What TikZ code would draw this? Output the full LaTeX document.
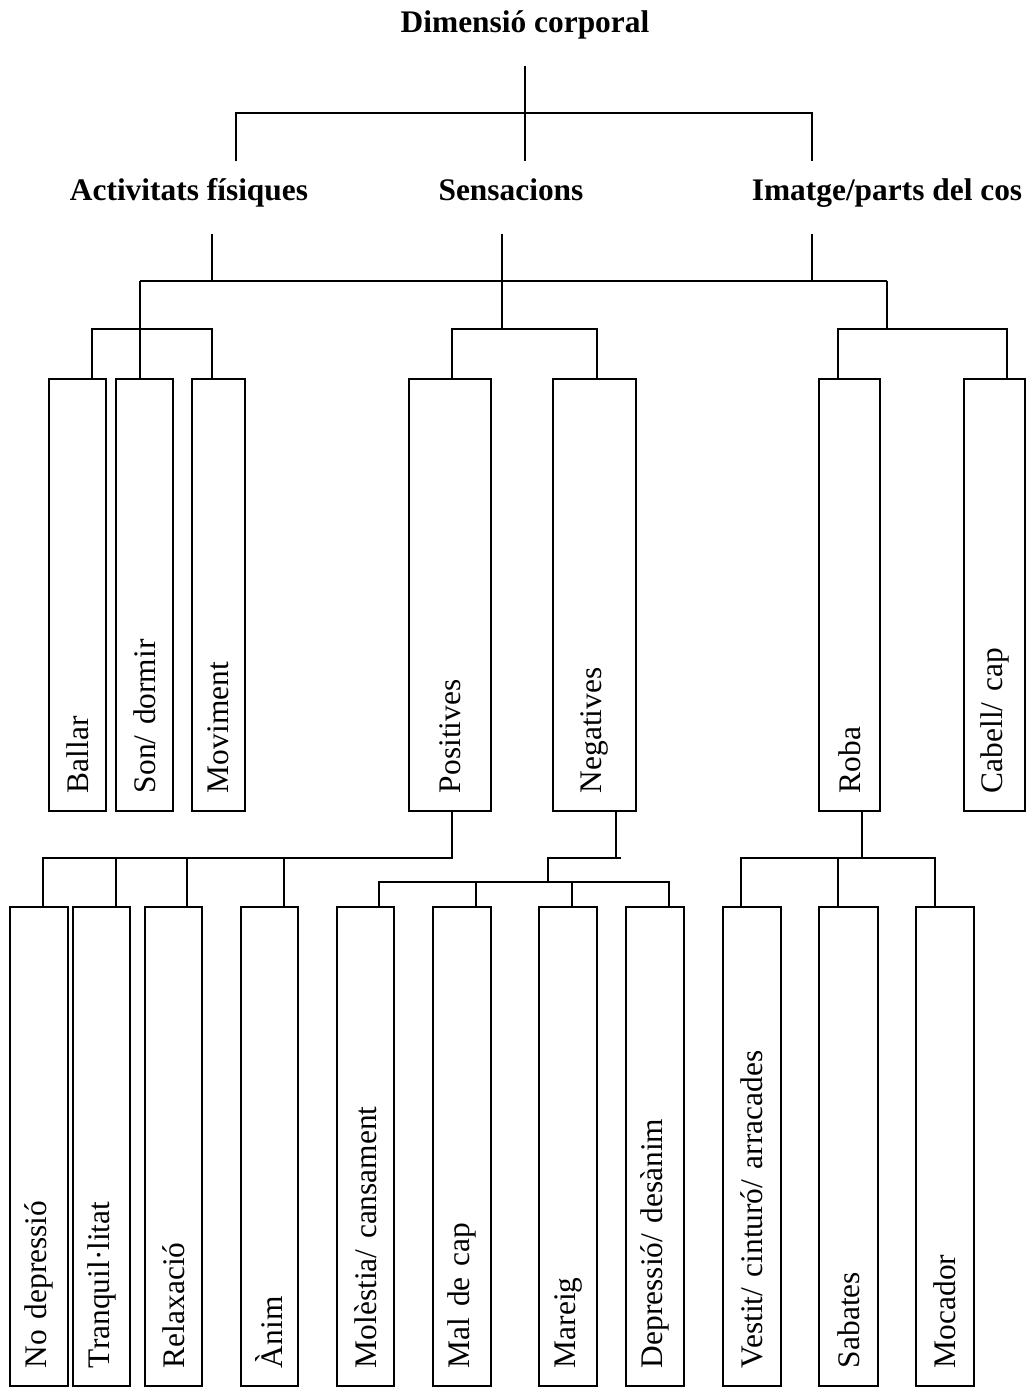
\documentclass[tikz,border=0pt]{standalone}
\usepackage{fontspec}
\setmainfont{Liberation Serif}
\usepackage{tikz}
\newcommand{\dimfont}{\fontsize{31.4}{37}\selectfont}

\begin{document}
\begin{tikzpicture}[x=1pt, y=-1pt, line width=1.3pt,
    every node/.style={font=\dimfont},
    cat/.style={font=\dimfont\bfseries, text height=22pt, text depth=17pt,
        inner xsep=0pt, minimum height=71pt},
    leaf/.style={draw, rotate=90, align=left, inner xsep=18pt, inner ysep=0pt,
        minimum height=#1},
    mid/.style={leaf=#1, text width=396pt},
    low/.style={leaf=#1, text width=443pt}]
    \useasboundingbox (0,0) rectangle (1026,1387);

    \path
    node[cat] (dim) at (525,30) {Dimensió corporal}
    node[cat] (act) at (189,197.5) {Activitats físiques}
    node[cat] (sens) at (511,197.5) {Sensacions}
    node[cat] (img) at (887,197.5) {Imatge/parts del cos};

    % rotated boxes: .east is the top side, .west the bottom side
    \path
    node[mid=57pt] (ballar) at (77.5,595) {Ballar}
    node[mid=57pt] (son) at (144.5,595) {Son/ dormir}
    node[mid=53pt] (moviment) at (218.5,595) {Moviment}
    node[mid=82pt] (pos) at (450,595) {Positives}
    node[mid=83pt] (neg) at (594.5,595) {Negatives}
    node[mid=61pt] (roba) at (849.5,595) {Roba}
    node[mid=61pt] (cabell) at (994.5,595) {Cabell/ cap};

    \path
    node[low=58pt] (nodep) at (39,1146.5) {No depressió}
    node[low=57pt] (tranq) at (101.5,1146.5) {Tranquil·litat}
    node[low=57pt] (relax) at (173.5,1146.5) {Relaxació}
    node[low=57pt] (anim) at (269.5,1146.5) {Ànim}
    node[low=57pt] (molest) at (365.5,1146.5) {Molèstia/ cansament}
    node[low=58pt] (malcap) at (462,1146.5) {Mal de cap}
    node[low=58pt] (mareig) at (568,1146.5) {Mareig}
    node[low=58pt] (depres) at (655,1146.5) {Depressió/ desànim}
    node[low=58pt] (vestit) at (752,1146.5) {Vestit/ cinturó/ arracades}
    node[low=59pt] (sabates) at (848.5,1146.5) {Sabates}
    node[low=58pt] (mocador) at (945,1146.5) {Mocador};

    % first level
    \draw (dim.south) -- (dim.south |- sens.north);
    \draw (236,0 |- act.north) |- (dim.south |- 0,113) -| (812,0 |- img.north);

    % second level
    \coordinate (busL) at (140,281);
    \coordinate (busR) at (887,281);
    \draw (busL) -- (busR);
    \draw (212,0 |- act.south) -- (212,0 |- busL);
    \draw (812,0 |- img.south) -- (812,0 |- busL);
    \draw (busL) -- (busL |- son.east);
    \draw (92,0 |- ballar.east) |- (212,329) -- (212,0 |- moviment.east);
    \draw (502,0 |- sens.south) -- (502,329);
    \draw (452,0 |- pos.east) |- (597,329) -- (597,0 |- neg.east);
    \draw (busR) -- (887,329);
    \draw (838,0 |- roba.east) |- (1007,329) -- (1007,0 |- cabell.east);

    % third level
    \draw (452,0 |- pos.west) |- (43,858) -- (43,0 |- nodep.east);
    \foreach \x/\n in {116/tranq, 187/relax, 284/anim}
        \draw (\x,858) -- (\x,0 |- \n.east);
    \draw (616,0 |- neg.west) -- (616,858);
    \draw (621,858) -- (548,858) -- (548,882);
    \draw (379,0 |- molest.east) |- (669,882) -- (669,0 |- depres.east);
    \foreach \x/\n in {476/malcap, 572/mareig}
        \draw (\x,882) -- (\x,0 |- \n.east);
    \draw (862,0 |- roba.west) -- (862,858);
    \draw (741,0 |- vestit.east) |- (935,858) -- (935,0 |- mocador.east);
    \draw (838,858) -- (838,0 |- sabates.east);
\end{tikzpicture}
\end{document}
